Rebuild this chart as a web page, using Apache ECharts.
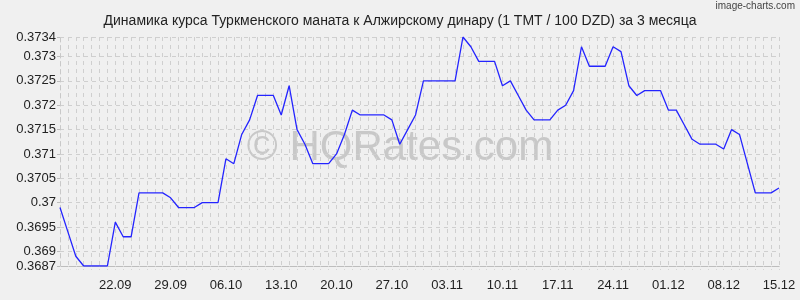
<!DOCTYPE html>
<html>
<head>
<meta charset="utf-8">
<script src="https://cdn.jsdelivr.net/npm/echarts@6/dist/echarts.min.js"></script>
<style>
html,body{margin:0;padding:0;background:#f0f0f0;}
#chart{width:800px;height:300px;}
</style>
</head>
<body>
<div id="chart"></div>
<script>
const titleText = 'Динамика курса Туркменского маната к Алжирскому динару (1 TMT / 100 DZD) за 3 месяца';

const dates = [
  '15.09','16.09','17.09','18.09','19.09','20.09','21.09','22.09','23.09','24.09','25.09','26.09','27.09','28.09','29.09','30.09',
  '01.10','02.10','03.10','04.10','05.10','06.10','07.10','08.10','09.10','10.10','11.10','12.10','13.10','14.10','15.10','16.10',
  '17.10','18.10','19.10','20.10','21.10','22.10','23.10','24.10','25.10','26.10','27.10','28.10','29.10','30.10','31.10',
  '01.11','02.11','03.11','04.11','05.11','06.11','07.11','08.11','09.11','10.11','11.11','12.11','13.11','14.11','15.11',
  '16.11','17.11','18.11','19.11','20.11','21.11','22.11','23.11','24.11','25.11','26.11','27.11','28.11','29.11','30.11',
  '01.12','02.12','03.12','04.12','05.12','06.12','07.12','08.12','09.12','10.12','11.12','12.12','13.12','14.12','15.12'
];

const rates = [
  0.3699,0.3694,0.3689,0.3687,0.3687,0.3687,0.3687,0.3696,0.3693,0.3693,
  0.3702,0.3702,0.3702,0.3702,0.3701,0.3699,0.3699,0.3699,0.3700,0.3700,
  0.3700,0.3709,0.3708,0.3714,0.3717,0.3722,0.3722,0.3722,0.3718,0.3724,
  0.3715,0.3712,0.3708,0.3708,0.3708,0.3710,0.3714,0.3719,0.3718,0.3718,
  0.3718,0.3718,0.3717,0.3712,0.3715,0.3718,0.3725,0.3725,0.3725,0.3725,
  0.3725,0.3734,0.3732,0.3729,0.3729,0.3729,0.3724,0.3725,0.3722,0.3719,
  0.3717,0.3717,0.3717,0.3719,0.3720,0.3723,0.3732,0.3728,0.3728,0.3728,
  0.3732,0.3731,0.3724,0.3722,0.3723,0.3723,0.3723,0.3719,0.3719,0.3716,
  0.3713,0.3712,0.3712,0.3712,0.3711,0.3715,0.3714,0.3708,0.3702,0.3702,
  0.3702,0.3703
];

const xTickLabels = ['22.09','29.09','06.10','13.10','20.10','27.10','03.11','10.11','17.11','24.11','01.12','08.12','15.12'];
const yTickValues = [0.3687,0.369,0.3695,0.37,0.3705,0.371,0.3715,0.372,0.3725,0.373,0.3734];
const yMin = 0.3687, yMax = 0.3734;

const chart = echarts.init(document.getElementById('chart'), null, {renderer:'canvas'});
const font = 'Liberation Sans, Arial, sans-serif';
chart.setOption({
  backgroundColor:'#f0f0f0',
  animation:false,
  title:{
    text:titleText, left:'center', top:9,
    textStyle:{fontFamily:font, fontSize:14, fontWeight:'normal', color:'#222'}
  },
  graphic:[
    {type:'text', right:5, top:1, style:{text:'image-charts.com', font:'10px "Liberation Sans Narrow", '+font, fill:'#444'}},
    {type:'text', left:'center', top:127, z:-1,
     style:{text:'© HQRates.com', font:'42px "Liberation Sans", Arial, sans-serif', fill:'#c8c8c8'}}
  ],
  grid:{left:60, right:21, top:37, bottom:34},
  xAxis:{
    type:'category', data:dates, boundaryGap:false,
    axisLine:{lineStyle:{color:'#bdbdbd', width:1}},
    axisTick:{show:true, interval:0, length:4, lineStyle:{color:'#d4d4d4', type:[1,2]}},
    axisLabel:{
      interval:(i, v) => xTickLabels.indexOf(v) >= 0,
      fontFamily:font, fontSize:13, color:'#222', margin:13
    },
    splitLine:{show:true, interval:0, lineStyle:{color:'#cfcfcf', type:[4,4], width:1}}
  },
  yAxis:{
    type:'value', min:yMin, max:yMax,
    axisLine:{show:true, lineStyle:{color:'#c8c8c8', type:[4,4]}},
    axisTick:{show:true, length:3, customValues:yTickValues, lineStyle:{color:'#bdbdbd'}},
    axisLabel:{customValues:yTickValues, fontFamily:font, fontSize:13, color:'#222', margin:4,
      formatter:v => String(+v.toFixed(4))},
    splitLine:{show:true, lineStyle:{color:'#cfcfcf', type:[4,4], width:1}}
  },
  series:[{
    type:'line', data:rates, showSymbol:false, symbol:'none',
    lineStyle:{color:'#2424ff', width:1.3}
  }]
});
</script>
</body>
</html>
